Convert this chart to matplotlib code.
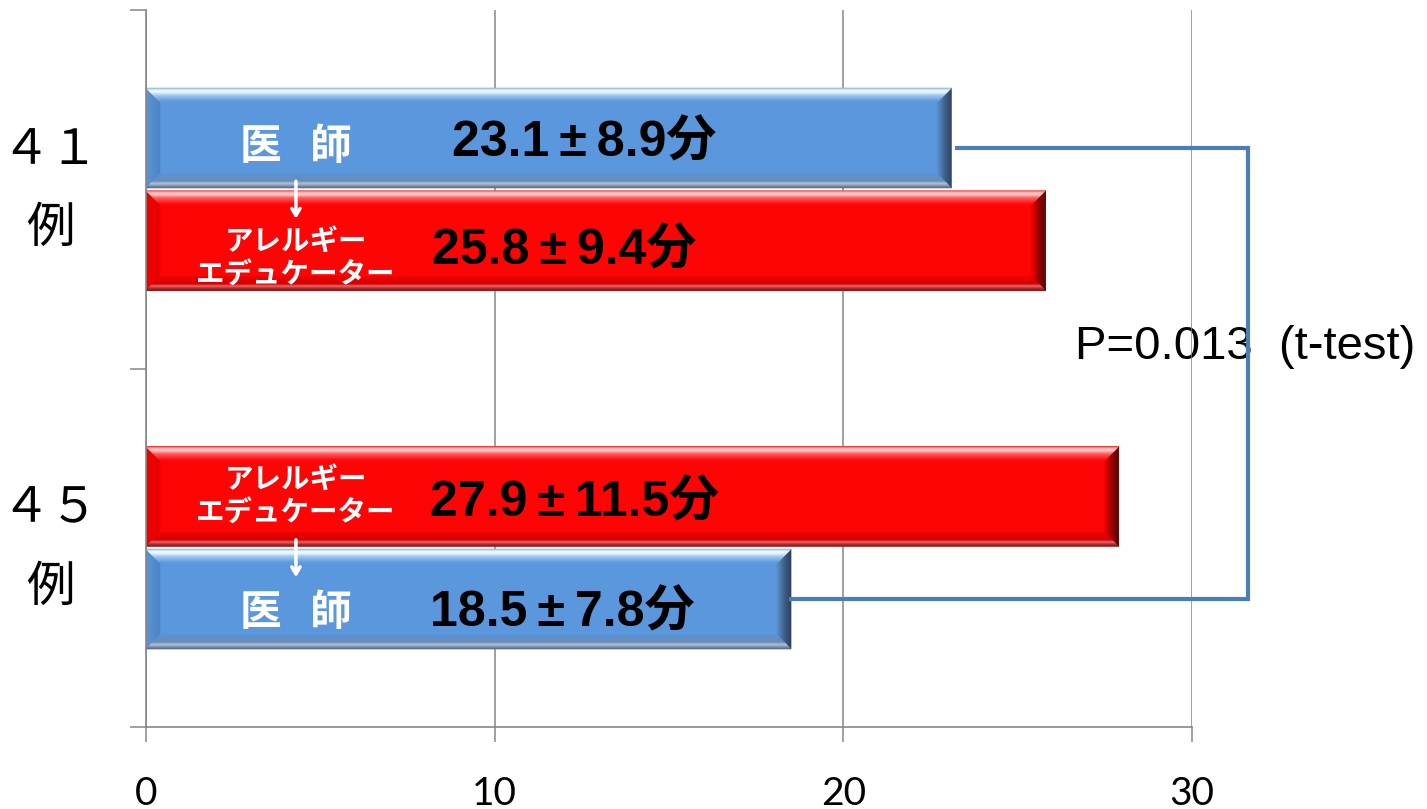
import matplotlib
matplotlib.use('Agg')
import matplotlib.pyplot as plt
import numpy as np
from matplotlib.patches import Polygon
from matplotlib.colors import to_rgb

# ---------------- data ----------------
groups = ['４１\n例', '４５\n例']
group_pos = [1.5, 0.5]
bar_group = [0, 0, 1, 1]
bar_kind = ['doctor', 'educator', 'educator', 'doctor']
bar_values = [23.1, 25.8, 27.9, 18.5]
bar_sd = [8.9, 9.4, 11.5, 7.8]
kind_labels = {'doctor': '医   師', 'educator': 'アレルギー\nエデュケーター'}
p_text = 'P=0.013  (t-test)'
xticks = [0, 10, 20, 30]

# ---------------- style ----------------
W, H = 1427, 809
fig = plt.figure(figsize=(W / 100, H / 100), dpi=100)
ax = fig.add_axes([146 / W, 82 / H, (1192 - 146) / W, (727 - 10) / H])
ax.set_xlim(0, 30)
ax.set_ylim(0, 2)

GRAY = '#868686'
CJK = ['Noto Sans CJK JP']
NUMF = ['Liberation Sans', 'Noto Sans CJK JP']

colors = {'doctor': '#5B97DD', 'educator': '#FE0505'}
bevels = {
    'doctor': dict(
        top=[(0, '#7AA3D6'), (0.15, '#DDF6FF'), (0.3, '#F0FCFF'), (0.55, '#A0C8F0'), (1, '#5B97DD')],
        bottom=[(0, '#4B6280'), (0.2, '#8798AE'), (0.35, '#B5C8DE'), (0.5, '#6C8CB5'), (1, '#5B92D3')],
        left=[(0, '#5E95D6'), (1, '#4C84C6')],
        right=[(0, '#2C3F5A'), (0.5, '#3E5E88'), (1, '#5B8FCC')]),
    'educator': dict(
        top=[(0, '#E83030'), (0.15, '#FFBCBC'), (0.3, '#FFD8D8'), (0.55, '#FF6060'), (1, '#FE0505')],
        bottom=[(0, '#7A1010'), (0.2, '#B03030'), (0.35, '#F07070'), (0.5, '#D00000'), (1, '#F00000')],
        left=[(0, '#F20000'), (1, '#E80000')],
        right=[(0, '#4A0C0C'), (0.5, '#900000'), (1, '#F00000')]),
}

bar_h = 0.279
bar_off = [0.143, -0.143, 0.143, -0.143]
ypos = [group_pos[g] + o for g, o in zip(bar_group, bar_off)]


def interp_color(stops, t):
    ts = [s[0] for s in stops]
    cs = np.array([to_rgb(s[1]) for s in stops])
    return tuple(np.interp(t, ts, cs[:, k]) for k in range(3))


def lerp(a, b, t):
    return (a[0] + (b[0] - a[0]) * t, a[1] + (b[1] - a[1]) * t)


def draw_bevel(ax, rect, scheme, bpx=14, nb=14):
    x0, y0 = rect.get_x(), rect.get_y()
    x1, y1 = x0 + rect.get_width(), y0 + rect.get_height()
    tr = ax.transData
    sx = (tr.transform((1, 0)) - tr.transform((0, 0)))[0]
    sy = (tr.transform((0, 1)) - tr.transform((0, 0)))[1]
    bx, by = bpx / sx, bpx / sy
    sides = {
        'left': ((x0, y0), (x0, y1), (x0 + bx, y0 + by), (x0 + bx, y1 - by)),
        'right': ((x1, y0), (x1, y1), (x1 - bx, y0 + by), (x1 - bx, y1 - by)),
        'top': ((x0, y1), (x1, y1), (x0 + bx, y1 - by), (x1 - bx, y1 - by)),
        'bottom': ((x0, y0), (x1, y0), (x0 + bx, y0 + by), (x1 - bx, y0 + by)),
    }
    ts = np.linspace(0, 1, nb + 1)
    for name in ['left', 'right', 'top', 'bottom']:
        oa, ob, ia, ib = sides[name]
        for i in range(nb):
            ta, tb = ts[i], ts[i + 1]
            poly = [lerp(oa, ia, ta), lerp(ob, ib, ta), lerp(ob, ib, tb), lerp(oa, ia, tb)]
            c = interp_color(scheme[name], (ta + tb) / 2)
            ax.add_patch(Polygon(poly, closed=True, fc=c, ec=c, lw=0.4,
                                 zorder=rect.get_zorder() + 0.1))


bars = ax.barh(ypos, bar_values, height=bar_h,
               color=[colors[k] for k in bar_kind], zorder=2, linewidth=0)
for rect, k in zip(bars, bar_kind):
    draw_bevel(ax, rect, bevels[k])

# labels inside bars
name_dy = [-0.025, -0.05, 0.0, -0.04]
val_x = [8.78, 8.2, 8.14, 8.14]
val_dy = [-0.015, -0.03, -0.02, -0.04]
for i, (y, k, v, sd) in enumerate(zip(ypos, bar_kind, bar_values, bar_sd)):
    if k == 'doctor':
        ax.text(4.3, y + name_dy[i], kind_labels[k], color='white', fontsize=30,
                fontweight='bold', family=CJK, ha='center', va='center', zorder=5)
    else:
        ax.text(4.3, y + name_dy[i], kind_labels[k], color='white', fontsize=20.5,
                fontweight='bold', family=CJK, ha='center', va='center',
                multialignment='center', linespacing=1.2, zorder=5)
    ax.text(val_x[i], y + val_dy[i], f'{v}\u2009±\u2009{sd}分', color='black', fontsize=36,
            fontweight='bold', family=NUMF, ha='left', va='center', zorder=5)

# arrows between the two bars of each group
for g in group_pos:
    ax.annotate('', xy=(4.3, g - 0.09), xytext=(4.3, g + 0.03),
                arrowprops=dict(arrowstyle='->,head_length=0.5,head_width=0.3',
                                color='white', lw=2.5), zorder=6)

# bracket connecting the two doctor bars
y_top = ypos[0] - 0.028
y_bot = ypos[3]
x_right = 31.6
ax.plot([bar_values[0] + 0.17, x_right, x_right, bar_values[3]],
        [y_top, y_top, y_bot, y_bot], color='#4A7EBB', lw=3.0,
        solid_joinstyle='miter', clip_on=False, zorder=4)
ax.text(26.64, 1.06, p_text, fontsize=34, family='Liberation Sans',
        ha='left', va='center', zorder=0.3)

# axes styling
for s in ['top', 'right']:
    ax.spines[s].set_visible(False)
for s in ['left', 'bottom']:
    ax.spines[s].set_color(GRAY)
    ax.spines[s].set_linewidth(1.2)
ax.set_axisbelow(True)
ax.xaxis.grid(True, color=GRAY, lw=1.1)
ax.set_xticks(xticks)
ax.set_xticklabels([str(t) for t in xticks], fontsize=28, family='Lato')
ax.tick_params(axis='x', length=11, width=1.1, color=GRAY, pad=24)
ax.set_yticks([0, 1, 2])
ax.set_yticklabels([])
ax.tick_params(axis='y', which='major', length=11.5, width=1.1, color=GRAY)
ax.set_yticks(group_pos, labels=groups, minor=True)
ax.tick_params(axis='y', which='minor', length=0, pad=69)
for lbl in ax.get_yticklabels(minor=True):
    lbl.set_ha('center')
    lbl.set_va('center')
    lbl.set_multialignment('center')
    lbl.set_family(CJK)
    lbl.set_fontsize(35)
    lbl.set_linespacing(1.75)

fig.savefig('out.png', dpi=100)
